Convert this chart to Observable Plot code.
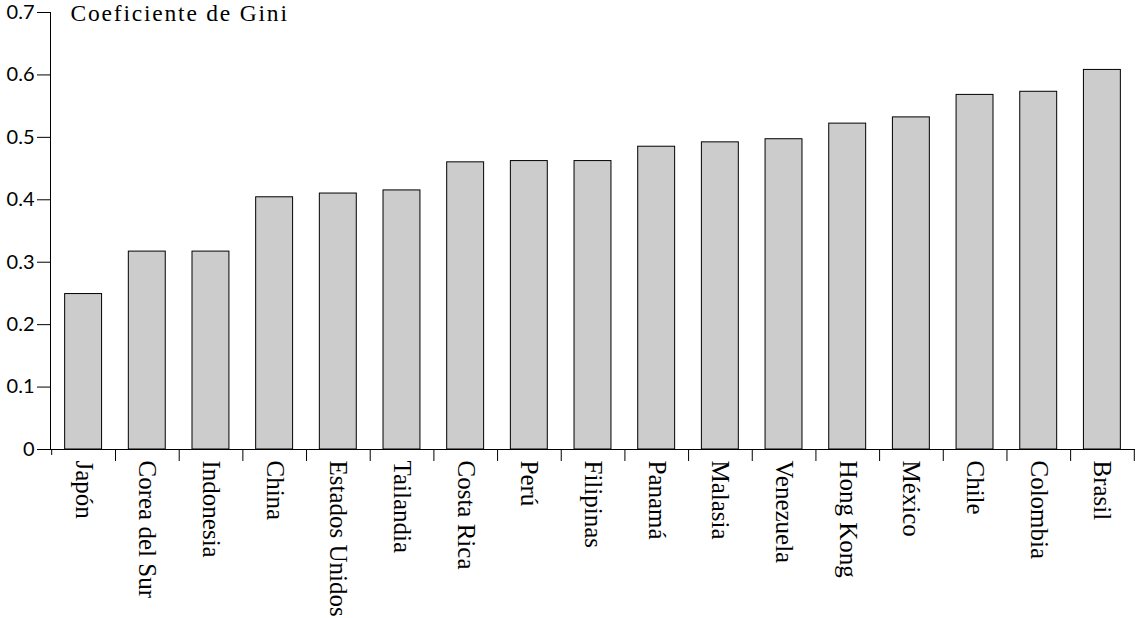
<!DOCTYPE html>
<html>
<head>
<meta charset="utf-8">
<script src="https://cdn.jsdelivr.net/npm/d3@7"></script>
<script src="https://cdn.jsdelivr.net/npm/@observablehq/plot@0.6"></script>
<style>
  html, body { margin: 0; padding: 0; background: #fff; }
  #chart svg { display: block; }
  #chart svg g.gini-title text { letter-spacing: 1.8px; }
</style>
</head>
<body>
<div id="chart"></div>
<script>
const countries = ["Japón", "Corea del Sur", "Indonesia", "China", "Estados Unidos", "Tailandia", "Costa Rica", "Perú", "Filipinas", "Panamá", "Malasia", "Venezuela", "Hong Kong", "México", "Chile", "Colombia", "Brasil"];
const gini = [0.249, 0.317, 0.317, 0.404, 0.410, 0.415, 0.460, 0.462, 0.462, 0.485, 0.492, 0.497, 0.522, 0.532, 0.568, 0.573, 0.608];
const yTicks = [0, 0.1, 0.2, 0.3, 0.4, 0.5, 0.6, 0.7];
const title = "Coeficiente de Gini";

const data = countries.map((c, i) => ({country: c, value: gini[i]}));

const W = 1136, H = 618;
const mL = 50, mR = 1, mT = 12, mB = 169;
const step = (W - mL - mR) / countries.length;

const chart = Plot.plot({
  width: W,
  height: H,
  marginLeft: mL,
  marginRight: mR,
  marginTop: mT,
  marginBottom: mB,
  style: {background: "#fff", color: "#000"},
  x: {domain: countries, paddingInner: 0.42, paddingOuter: 0.23, align: 0.5, round: false},
  y: {domain: [0, 0.7]},
  marks: [
    Plot.barY(data, {x: "country", y: "value", fill: "#cccccc", stroke: "#000", strokeWidth: 1}),
    Plot.frame({anchor: "left", stroke: "#000"}),
    Plot.ruleY([0], {stroke: "#000"}),
    Plot.axisY({ticks: yTicks, tickSize: 13, tickPadding: 3, tickFormat: d3.format("~g"), label: null,
      fontSize: 20, fontFamily: "Lato", stroke: "#000"}),
    Plot.axisX({tickSize: 12, dx: step / 2, text: null, label: null, stroke: "#000"}),
    Plot.axisX([countries[0]], {tickSize: 6, dx: -step / 2, text: null, label: null, stroke: "#000"}),
    Plot.axisX({tickSize: 0, tickRotate: 90, tickPadding: 11, label: null,
      fontSize: 25, fontFamily: "Liberation Serif", fill: "#000"}),
    Plot.text([title], {frameAnchor: "top-left", dx: 20, dy: 1, lineAnchor: "middle",
      fontSize: 23.5, fontFamily: "Liberation Serif", fill: "#000", className: "gini-title"})
  ]
});
document.getElementById("chart").appendChild(chart);
</script>
</body>
</html>
